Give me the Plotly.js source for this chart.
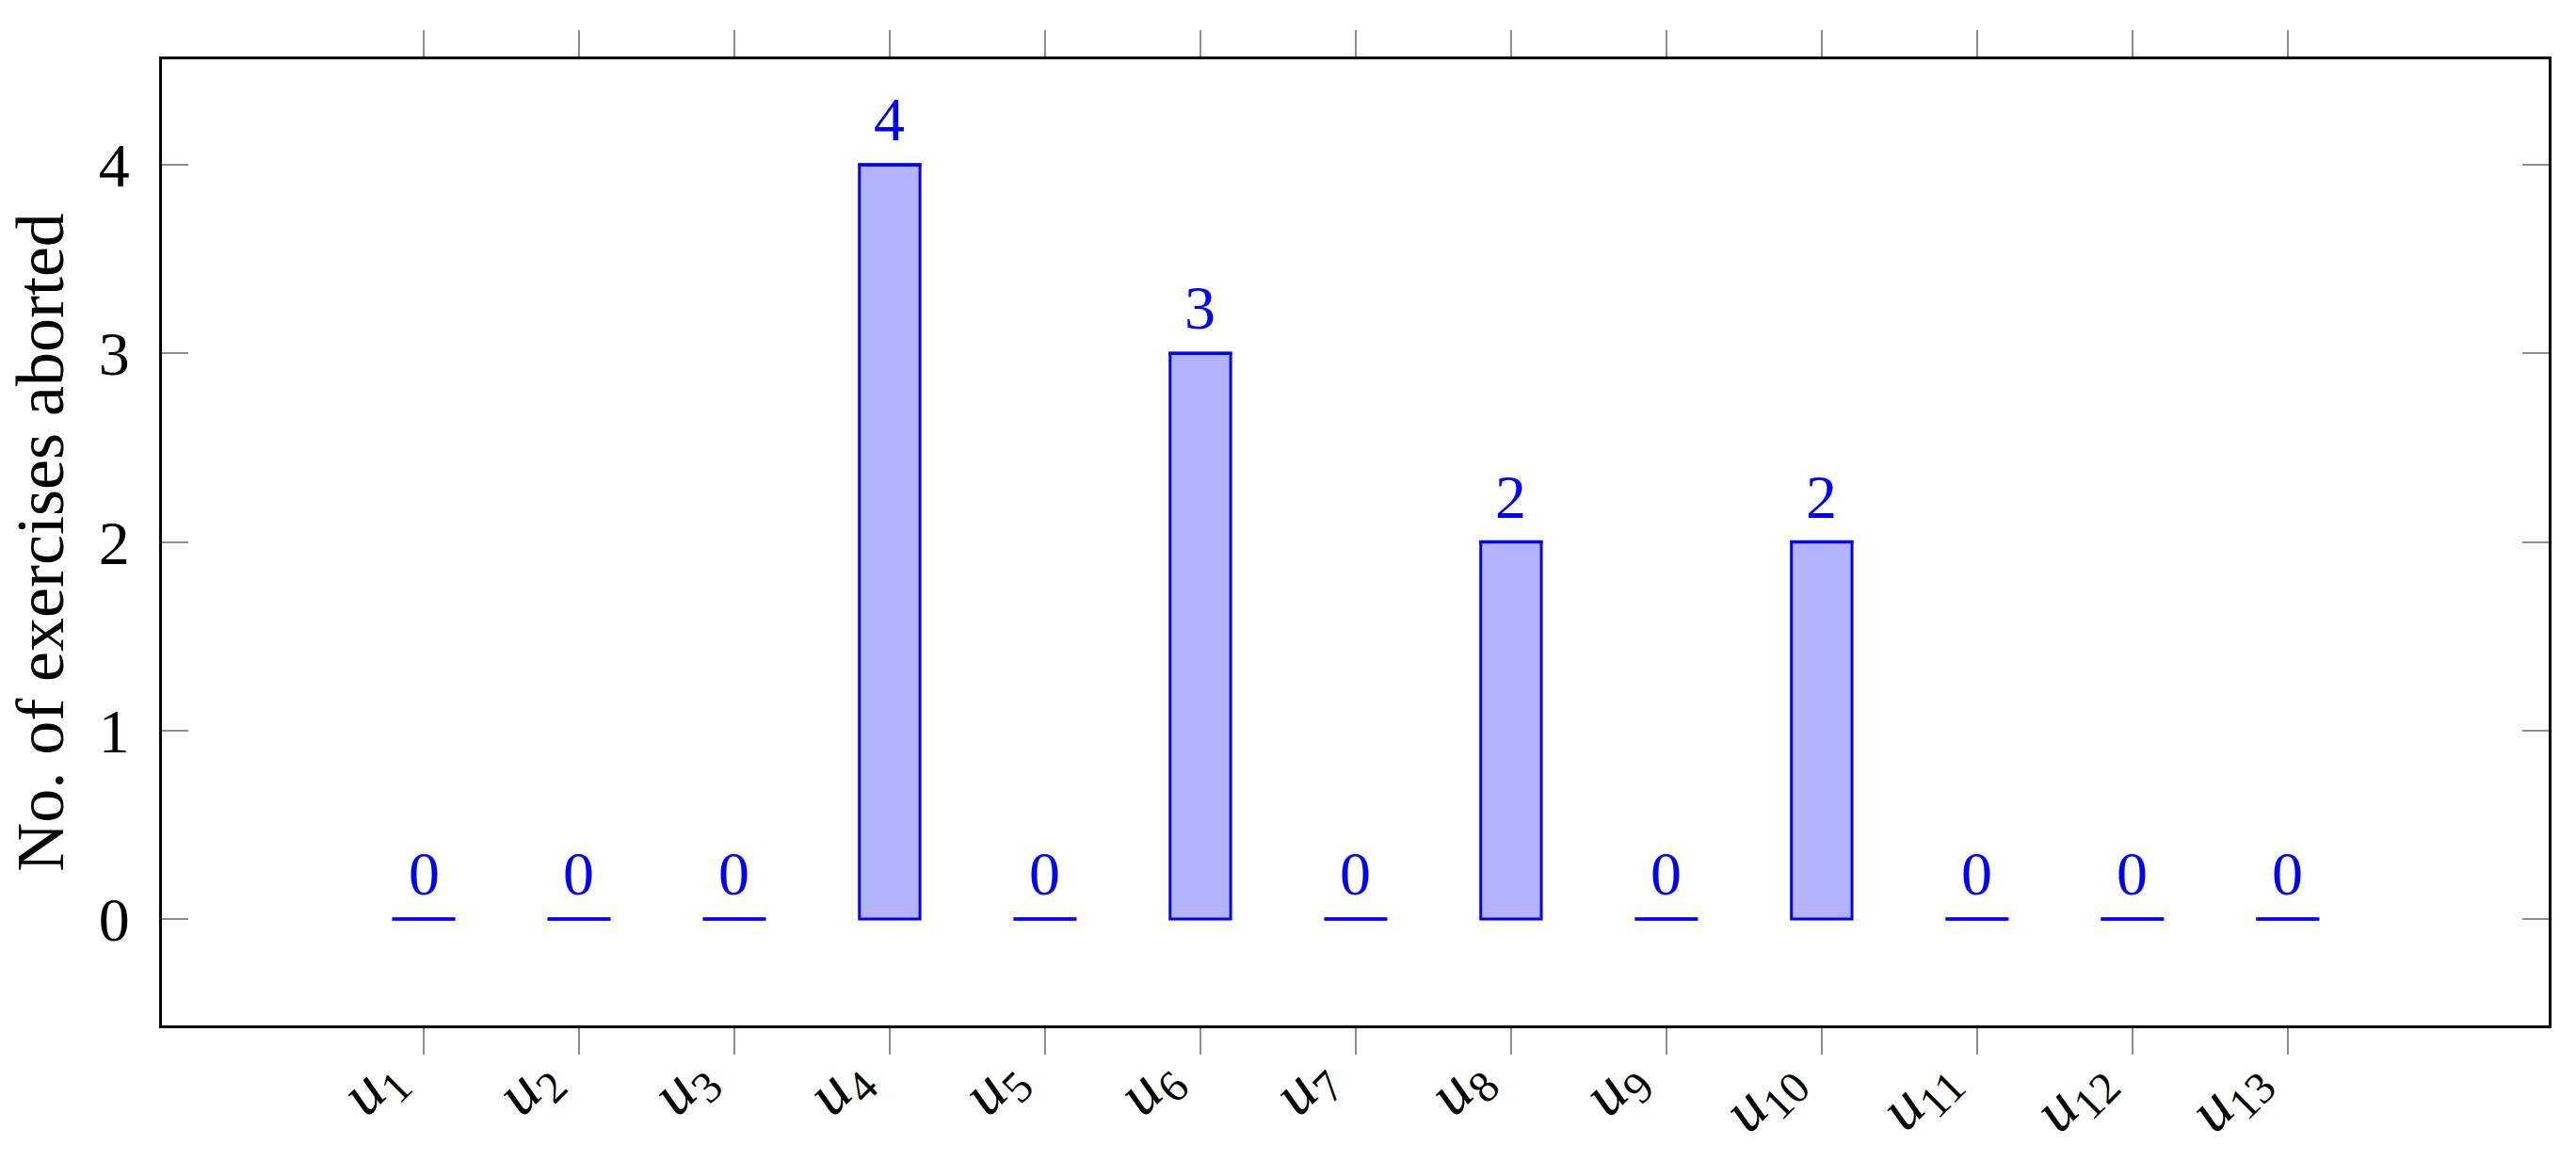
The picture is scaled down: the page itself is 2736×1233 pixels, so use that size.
<!DOCTYPE html>
<html>
<head>
<meta charset="utf-8">
<script src="https://cdn.plot.ly/plotly-3.0.1.min.js"></script>
<style>
  html, body { margin: 0; padding: 0; background: #fff; }
  #chart { width: 2736px; height: 1233px; }
</style>
</head>
<body>
<div id="chart"></div>
<script>
    // users u1..u13 and exercises aborted by each
    var users = ['1', '2', '3', '4', '5', '6', '7', '8', '9', '10', '11', '12', '13'];
    var aborted = [0, 0, 0, 4, 0, 3, 0, 2, 0, 2, 0, 0, 0];
    var yTicks = [0, 1, 2, 3, 4];

    var pos = users.map(function (u, i) { return i + 1; });

    var blue = 'rgb(0, 0, 255)';
    var serif = '"Liberation Serif", "DejaVu Serif", serif';

    var bars = {
      x: pos,
      y: aborted,
      type: 'bar',
      width: 0.39,
      marker: {
        color: 'rgb(179, 179, 255)',
        line: { color: blue, width: 3 }
      },
      hoverinfo: 'none'
    };

    // flat stroke at each bar's value, so the zero bars still show
    var caps = {
      x: pos,
      y: aborted,
      type: 'scatter',
      mode: 'markers',
      marker: {
        symbol: 'line-ew',
        size: 48,
        color: blue,
        line: { color: blue, width: 3.5 }
      },
      hoverinfo: 'none'
    };

    var valueLabels = aborted.map(function (v, i) {
      return {
        x: pos[i],
        y: v,
        text: String(v),
        showarrow: false,
        yanchor: 'bottom',
        yshift: 10,
        font: { family: serif, size: 66, color: blue }
      };
    });

    // slanted u_i labels under the ticks
    var userLabels = users.map(function (u, i) {
      return {
        x: pos[i],
        xref: 'x',
        y: -0.012,
        yref: 'paper',
        text: '<i>u</i><sub>' + u + '</sub>',
        textangle: -45,
        xanchor: 'right',
        yanchor: 'top',
        showarrow: false,
        font: { family: serif, size: 68, color: '#000' }
      };
    });

    var layout = {
      width: 2736,
      height: 1233,
      margin: { l: 172, r: 29, t: 63, b: 144 },
      paper_bgcolor: '#fff',
      plot_bgcolor: '#fff',
      showlegend: false,
      font: { family: serif, size: 62, color: '#000' },
      xaxis: {
        range: [-0.685, 14.68],
        tickvals: pos,
        showticklabels: false,
        ticks: 'outside',
        ticklen: 28,
        tickwidth: 1.5,
        tickcolor: '#8c8c8c',
        showgrid: false,
        zeroline: false,
        showline: true,
        linecolor: '#000',
        linewidth: 3,
        mirror: 'allticks'
      },
      yaxis: {
        range: [-0.565, 4.56],
        tickvals: yTicks,
        ticks: 'inside',
        ticklen: 28,
        tickwidth: 1.5,
        tickcolor: '#8c8c8c',
        ticklabelstandoff: 18,
        showgrid: false,
        zeroline: false,
        showline: true,
        linecolor: '#000',
        linewidth: 3,
        mirror: 'allticks',
        tickfont: { family: serif, size: 66 },
        title: { text: 'No. of exercises aborted', font: { family: serif, size: 72 }, standoff: 14 }
      },
      annotations: valueLabels.concat(userLabels)
    };

    Plotly.newPlot('chart', [bars, caps], layout, { displayModeBar: false });
</script>
</body>
</html>
